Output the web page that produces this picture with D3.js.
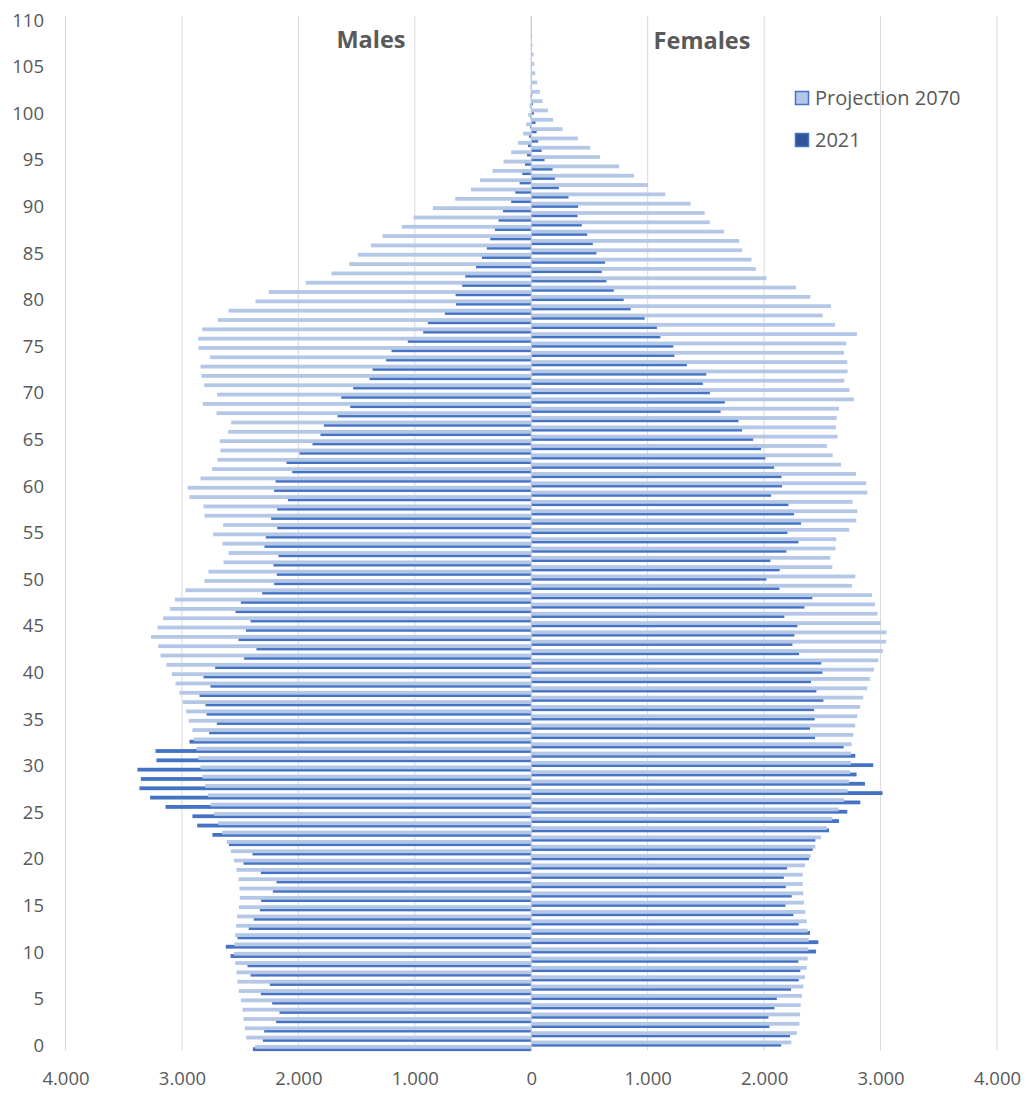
<!DOCTYPE html>
<html><head><meta charset="utf-8">
<script src="https://cdn.jsdelivr.net/npm/d3@7"></script>
<style>body{margin:0;background:#fff} text{font-family:"Open Sans",sans-serif}</style>
</head><body><svg id="c" width="1026" height="1095"></svg>
<script>
const ages = d3.range(0, 111);
const yTicks = [0,5,10,15,20,25,30,35,40,45,50,55,60,65,70,75,80,85,90,95,100,105,110];
const xTicks = [-4000,-3000,-2000,-1000,0,1000,2000,3000,4000];
const seriesNames = ["Projection 2070", "2021"];

const males2070 = [2371,2448,2460,2471,2480,2494,2511,2523,2532,2543,
2552,2549,2543,2534,2526,2511,2503,2506,2514,2532,
2552,2580,2615,2655,2689,2723,2755,2778,2801,2824,
2841,2861,2875,2898,2910,2941,2964,2993,3021,3056,
3087,3133,3184,3204,3265,3210,3162,3104,3061,2970,
2806,2772,2643,2600,2652,2732,2646,2806,2815,2935,
2950,2841,2741,2695,2669,2675,2603,2577,2703,2821,
2698,2809,2832,2841,2758,2858,2861,2826,2692,2600,
2368,2254,1936,1715,1564,1489,1377,1277,1111,1011,
845,653,518,441,332,238,172,115,69,43,
26,15,9,6,4,3,2,1,1,0,0];

const males2021 = [2391,2305,2294,2191,2162,2225,2322,2245,2411,2437,
2583,2623,2523,2426,2383,2331,2320,2219,2188,2322,
2471,2394,2597,2738,2869,2910,3141,3273,3365,3353,
3382,3219,3227,2935,2766,2700,2789,2798,2849,2755,
2815,2715,2466,2360,2514,2451,2411,2540,2494,2311,
2208,2185,2214,2171,2291,2280,2182,2234,2182,2090,
2208,2196,2053,2102,1990,1879,1810,1781,1664,1555,
1632,1529,1389,1363,1246,1200,1060,928,888,742,
647,650,593,567,475,424,381,352,312,281,
243,172,137,100,77,54,37,28,20,10,
6,4,2,1,0,0,0,0,0,0,0];

const females2070 = [2234,2280,2303,2309,2314,2326,2337,2351,2366,2374,
2380,2383,2374,2366,2354,2343,2337,2331,2331,2351,
2400,2440,2489,2537,2586,2640,2686,2717,2731,2740,
2746,2746,2751,2766,2783,2800,2826,2851,2886,2911,
2943,2980,3020,3049,3051,3000,2974,2951,2926,2754,
2783,2586,2569,2614,2620,2731,2791,2800,2760,2886,
2877,2789,2660,2589,2540,2631,2617,2623,2643,2771,
2734,2689,2717,2714,2686,2706,2797,2609,2503,2574,
2397,2274,2020,1929,1891,1811,1786,1657,1534,1489,
1369,1151,1003,883,754,591,506,400,269,189,
143,97,74,51,34,26,20,11,8,5,3];

const females2021 = [2146,2223,2046,2037,2089,2109,2231,2297,2311,2294,
2446,2466,2394,2297,2251,2183,2237,2186,2169,2197,
2386,2417,2440,2557,2643,2714,2826,3017,2866,2794,
2937,2783,2683,2437,2394,2434,2429,2509,2449,2403,
2500,2491,2300,2243,2260,2286,2174,2346,2414,2131,
2020,2134,2054,2191,2294,2200,2317,2257,2209,2060,
2154,2149,2086,2011,1974,1906,1811,1780,1626,1663,
1534,1474,1503,1337,1229,1220,1109,1080,974,854,
794,709,646,606,634,560,529,480,434,397,
403,320,237,203,183,114,89,60,46,37,
23,14,9,5,3,2,1,0,0,0,0];

const LIGHT = "#b4c7e7", DARK = "#4472c4", TXT = "#595959";
const svg = d3.select("#c");
const x = d3.scaleLinear().domain([-4000, 4000]).range([65.5, 997]);
const y = d3.scaleBand().domain(ages).range([1050.5, 16]).padding(0);
const bw = y.bandwidth();
const yc = a => y(a) + bw / 2;
const loc = d3.formatLocale({decimal: ",", thousands: ".", grouping: [3], currency: ["", ""]});
const fmt = loc.format(",d");

// gridlines
svg.append("g").selectAll("line").data(xTicks.filter(d => d !== 0)).join("line")
  .attr("x1", d => x(d)).attr("x2", d => x(d))
  .attr("y1", 16).attr("y2", 1050.5)
  .attr("stroke", "#d9d9d9").attr("stroke-width", 1);

const barH = 3.8;
const layers = [
  {vals: males2021, sign: -1, off: 3.4, color: DARK},
  {vals: males2070, sign: -1, off: 1.1, color: LIGHT},
  {vals: females2021, sign: 1, off: -1.1, color: DARK},
  {vals: females2070, sign: 1, off: -3.4, color: LIGHT}
];
layers.forEach(L => {
  svg.append("g").selectAll("rect").data(ages).join("rect")
    .attr("x", a => L.sign < 0 ? x(-L.vals[a]) : x(0))
    .attr("width", a => Math.abs(x(L.sign * L.vals[a]) - x(0)))
    .attr("y", a => yc(a) + L.off - barH / 2)
    .attr("height", barH)
    .attr("fill", L.color);
});

// center axis line
svg.append("line").attr("x1", x(0)).attr("x2", x(0)).attr("y1", 16).attr("y2", 1050.5)
  .attr("stroke", "#bfc8d8").attr("stroke-width", 1.2);

// y axis labels
const yAxis = svg.append("g").attr("transform", "translate(50,0)")
  .call(d3.axisLeft(y).tickValues(yTicks).tickSize(0).tickPadding(6));
yAxis.select(".domain").remove();
yAxis.selectAll("text").attr("fill", TXT).style("font-size", "18.5px").style("font-family", '"Open Sans",sans-serif');

// x axis labels
const xAxis = svg.append("g").attr("transform", "translate(0,1050.5)")
  .call(d3.axisBottom(x).tickValues(xTicks).tickSize(0).tickPadding(21).tickFormat(d => fmt(Math.abs(d))));
xAxis.select(".domain").remove();
xAxis.selectAll("text").attr("fill", TXT).style("font-size", "18.5px").style("font-family", '"Open Sans",sans-serif');

// titles
svg.append("text").attr("x", 371).attr("y", 48).attr("text-anchor", "middle")
  .attr("fill", TXT).style("font-size", "23.5px").style("font-weight", "bold").text("Males");
svg.append("text").attr("x", 702).attr("y", 49).attr("text-anchor", "middle")
  .attr("fill", TXT).style("font-size", "23.5px").style("font-weight", "bold").text("Females");

// legend
const leg = svg.append("g");
[{name: seriesNames[0], fill: LIGHT, stroke: DARK, y: 91}, {name: seriesNames[1], fill: "#2f5597", stroke: DARK, y: 133}]
.forEach(l => {
  leg.append("rect").attr("x", 795.5).attr("y", l.y + 0.5).attr("width", 13).attr("height", 13)
    .attr("fill", l.fill).attr("stroke", l.stroke).attr("stroke-width", 1.5);
  leg.append("text").attr("x", 815).attr("y", l.y + 14).attr("fill", TXT)
    .style("font-size", "20px").text(l.name);
});
</script></body></html>
